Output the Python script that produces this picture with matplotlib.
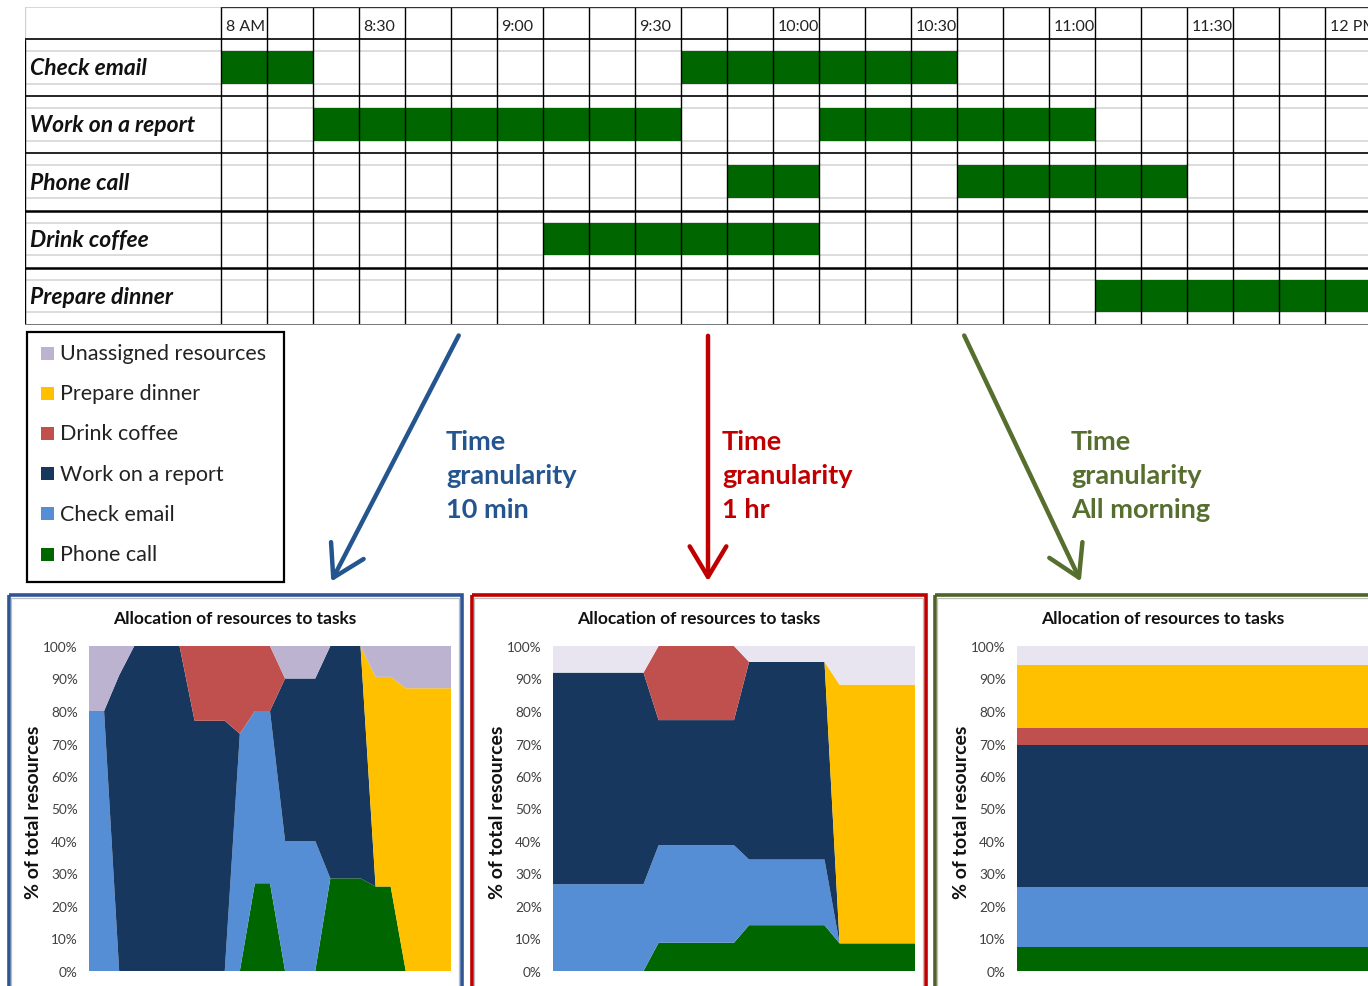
import numpy as np
import matplotlib.pyplot as plt
from matplotlib.patches import Rectangle, FancyArrowPatch

plt.rcParams['font.family'] = ['Lato', 'DejaVu Sans']

W, H = 1368, 987

# ---- schedule (10 minute slots starting at 8 AM) ----
tasks = ["Check email", "Work on a report", "Phone call", "Drink coffee", "Prepare dinner"]
task_slots = [
    [(0, 2), (10, 6)],
    [(2, 8), (13, 6)],
    [(11, 2), (16, 5)],
    [(7, 6)],
    [(19, 6)],
]
time_labels = ["8 AM", "8:30", "9:00", "9:30", "10:00", "10:30", "11:00", "11:30", "12 PM"]
time_label_slots = [0, 3, 6, 9, 12, 15, 18, 21, 24]

# ---- resource allocation, % of total, bottom to top ----
series_names = ["Phone call", "Check email", "Work on a report", "Drink coffee",
                "Prepare dinner", "Unassigned resources"]

# 10 min granularity (25 points, 8:00 .. 12:00)
phone_10 = [0, 0, 0, 0, 0, 0, 0, 0, 0, 0, 0, 27, 27, 0, 0, 0, 28.5, 28.5, 28.5, 26, 26, 0, 0, 0, 0]
email_10 = [80, 80, 0, 0, 0, 0, 0, 0, 0, 0, 73, 53, 53, 40, 40, 40, 0, 0, 0, 0, 0, 0, 0, 0, 0]
report_10 = [0, 0, 91, 100, 100, 100, 100, 77, 77, 77, 0, 0, 0, 50, 50, 50, 71.5, 71.5, 71.5, 0, 0, 0, 0, 0, 0]
coffee_10 = [0, 0, 0, 0, 0, 0, 0, 23, 23, 23, 27, 20, 20, 0, 0, 0, 0, 0, 0, 0, 0, 0, 0, 0, 0]
dinner_10 = [0, 0, 0, 0, 0, 0, 0, 0, 0, 0, 0, 0, 0, 0, 0, 0, 0, 0, 0, 64.5, 64.5, 87, 87, 87, 87]
unassigned_10 = [20, 20, 9, 0, 0, 0, 0, 0, 0, 0, 0, 0, 0, 10, 10, 10, 0, 0, 0, 9.5, 9.5, 13, 13, 13, 13]

# 1 hr granularity
phone_1h = [0, 0, 0, 0, 0, 0, 0, 8.7, 8.7, 8.7, 8.7, 8.7, 8.7,
            14.1, 14.1, 14.1, 14.1, 14.1, 14.1, 8.5, 8.5, 8.5, 8.5, 8.5, 8.5]
email_1h = [26.7, 26.7, 26.7, 26.7, 26.7, 26.7, 26.7, 30, 30, 30, 30, 30, 30,
            20.2, 20.2, 20.2, 20.2, 20.2, 20.2, 0, 0, 0, 0, 0, 0]
report_1h = [65.1, 65.1, 65.1, 65.1, 65.1, 65.1, 65.1, 38.5, 38.5, 38.5, 38.5, 38.5, 38.5,
             60.8, 60.8, 60.8, 60.8, 60.8, 60.8, 0, 0, 0, 0, 0, 0]
coffee_1h = [0, 0, 0, 0, 0, 0, 0, 22.8, 22.8, 22.8, 22.8, 22.8, 22.8,
             0, 0, 0, 0, 0, 0, 0, 0, 0, 0, 0, 0]
dinner_1h = [0, 0, 0, 0, 0, 0, 0, 0, 0, 0, 0, 0, 0,
             0, 0, 0, 0, 0, 0, 79.6, 79.6, 79.6, 79.6, 79.6, 79.6]
unassigned_1h = [8.2, 8.2, 8.2, 8.2, 8.2, 8.2, 8.2, 0, 0, 0, 0, 0, 0,
                 4.9, 4.9, 4.9, 4.9, 4.9, 4.9, 11.9, 11.9, 11.9, 11.9, 11.9, 11.9]

# whole morning
morning = [7.5, 18.4, 43.6, 5.4, 19.2, 5.9]

task_colors = ["#006600", "#558ED5", "#17375E", "#C0504D", "#FFC000"]
unassigned_dark = "#BBB3CF"
unassigned_light = "#E8E4F0"
bar_green = "#006600"

fig = plt.figure(figsize=(W / 100, H / 100), dpi=100)
fig.patch.set_facecolor("white")


def px_axes(x0, y0, x1, y1):
    return fig.add_axes([x0 / W, 1 - y1 / H, (x1 - x0) / W, (y1 - y0) / H])


# background layer for boxes, arrows and notes (pixel coordinates)
bg = fig.add_axes([0, 0, 1, 1])
bg.set_xlim(0, W)
bg.set_ylim(H, 0)
bg.axis("off")

# ---- gantt grid ----
col_w = 46.0
x_first = 221
row_h = 57.2
head_h = 32 / row_h
gx0 = (25 - x_first) / col_w
gx1 = (W - x_first) / col_w
gantt = px_axes(25, 8, W, 326)
gantt.set_xlim(gx0, gx1)
gantt.set_ylim(len(tasks), -head_h)
gantt.axis("off")

for r, slots in enumerate(task_slots):
    gantt.broken_barh(slots, (r + 0.21, 0.57), facecolors=bar_green, zorder=2)
    gantt.text(-4.15, r + 0.5, tasks[r], fontsize=16.5, fontweight="bold", style="italic",
               va="center", ha="left", color="#111111")
    for f in (0.21, 0.78):
        gantt.plot([gx0, gx1], [r + f, r + f], color="#D6D6D6", lw=1.2, zorder=1)

for c in range(26):
    gantt.plot([c, c], [-head_h, len(tasks)], color="black", lw=1.0, zorder=3)
gantt.plot([gx0, gx0], [0, len(tasks)], color="black", lw=1.0, zorder=3)
gantt.plot([gx0, gx0], [-head_h, 0], color="#D0D0D0", lw=1.0, zorder=3)
gantt.plot([gx0, 0], [-head_h, -head_h], color="#D0D0D0", lw=1.2, zorder=3)
gantt.plot([0, gx1], [-head_h, -head_h], color="#333333", lw=1.0, zorder=3)
for r in range(len(tasks)):
    lw = 1.8 if r >= 3 else 1.2
    gantt.plot([gx0, gx1], [r, r], color="black", lw=lw, zorder=3)
gantt.plot([gx0, gx1], [len(tasks), len(tasks)], color="#777777", lw=1.4, zorder=3)

for lab, c in zip(time_labels, time_label_slots):
    gantt.text(c + 0.1, -0.22, lab, fontsize=11.5, va="center", ha="left", color="#222222")

# ---- legend box ----
bg.add_patch(Rectangle((27, 333), 257, 250, fill=False, ec="black", lw=1.6))
legend_items = list(zip(series_names, task_colors + [unassigned_dark]))[::-1]
for k, (name, col) in enumerate(legend_items):
    yc = 354 + k * 40.2
    bg.add_patch(Rectangle((41, yc - 6.5), 13, 13, fc=col, ec="none"))
    bg.text(60, yc, name, fontsize=15.5, va="center", ha="left", color="#222222")

# ---- arrows and notes ----
notes = [
    ((460, 334), (330, 585), "#24558F", (446, 476), "Time\ngranularity\n10 min"),
    ((708, 334), (708, 585), "#C00000", (722, 476), "Time\ngranularity\n1 hr"),
    ((963, 334), (1082, 585), "#566E2E", (1071, 476), "Time\ngranularity\nAll morning"),
]
for start, end, col, tpos, txt in notes:
    bg.add_patch(FancyArrowPatch(start, end, arrowstyle="->,head_length=10,head_width=6",
                                 color=col, lw=3.2, mutation_scale=2.2))
    bg.text(tpos[0], tpos[1], txt, fontsize=19.5, fontweight="bold", color=col,
            va="center", ha="left", linespacing=1.5)

# ---- allocation charts ----
panels = [
    (7, 463, "#2F5597", 89, [phone_10, email_10, report_10, coffee_10, dinner_10, unassigned_10],
     unassigned_dark),
    (470, 927, "#C00000", 553, [phone_1h, email_1h, report_1h, coffee_1h, dinner_1h, unassigned_1h],
     unassigned_light),
    (933, 1400, "#4F6228", 1017, None, unassigned_light),
]

for px0, px1, border, ax_x0, data, un_col in panels:
    bg.add_patch(Rectangle((px0 + 1.5, 595.5), px1 - px0 - 3, 420, fill=False, ec=border, lw=2.6))
    bg.add_patch(Rectangle((px0 + 4, 599), px1 - px0 - 8, 420, fill=False, ec="#BFBFBF", lw=0.9))

    ax = px_axes(ax_x0, 647, ax_x0 + 362, 972)
    cols = task_colors + [un_col]
    if data is None:
        x = [0, 24]
        ys = [[v, v] for v in morning]
    else:
        x = np.arange(len(data[0]))
        ys = data
    ax.stackplot(x, *ys, colors=cols, linewidth=0)
    ax.set_xlim(0, 24)
    ax.set_ylim(0, 100)
    ax.set_yticks(np.arange(0, 101, 10))
    ax.set_yticklabels([f"{v}%" for v in range(0, 101, 10)], fontsize=9.8, color="#404040")
    ax.set_xticks([])
    ax.tick_params(axis="y", length=0, pad=8)
    for s in ax.spines.values():
        s.set_visible(False)
    ax.set_ylabel("% of total resources", fontsize=14, fontweight="bold", color="#111111")
    ax.yaxis.set_label_coords(-0.13, 0.49)
    bg.text(ax_x0 + 146, 619, "Allocation of resources to tasks", fontsize=12.5,
            fontweight="bold", ha="center", va="center", color="#111111")

fig.savefig("out.png", dpi=100, facecolor="white")
